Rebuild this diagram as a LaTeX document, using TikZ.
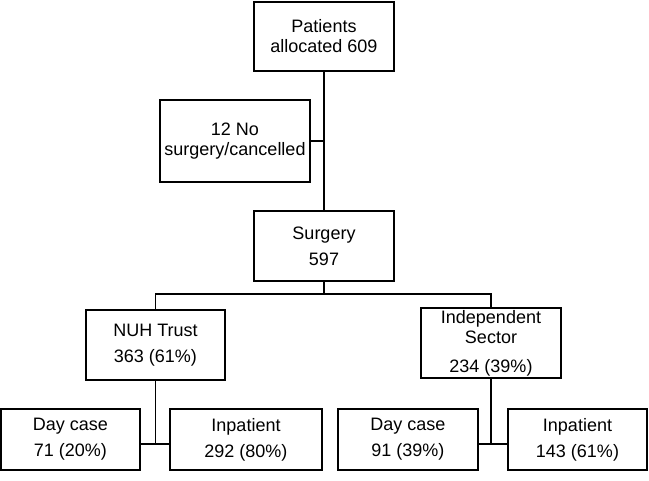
\documentclass[tikz,border=0pt]{standalone}
\usepackage{fontspec}
\setmainfont{Liberation Sans}
\tikzset{box/.style={draw,line width=1.8pt,align=center,inner sep=0pt,minimum height=70pt,font=\fontsize{18}{20}\selectfont},
	link/.style={line width=1.8pt}}
\begin{document}
\begin{tikzpicture}[x=1pt,y=-1pt]
 		\useasboundingbox (0,0) rectangle (649,481);
 		\node[box,minimum width=140pt,minimum height=69pt] (pat) at (324,36.5) {Patients\\allocated 609};
 		\node[box,minimum width=150pt,minimum height=82pt] (nosurg) at (235,141) {12 No\\surgery/cancelled};
 		\node[box,minimum width=140pt] (surg) at (324,246) {Surgery\\[6pt]597};
 		\node[box,minimum width=139pt] (nuh) at (155.5,345) {NUH Trust\\[6pt]363 (61\%)};
 		\node[box,minimum width=140pt] (ind) at (491,343) {Independent\\Sector\\[9pt]234 (39\%)};
 		\node[box,minimum width=139pt,minimum height=61pt] (dcnuh) at (70.5,439.5) {Day case\\[6pt]71 (20\%)};
 		\node[box,minimum width=152pt,minimum height=61pt] (ipnuh) at (246,439.5) {Inpatient\\[6pt]292 (80\%)};
 		\node[box,minimum width=140pt,minimum height=61pt] (dcind) at (408,439.5) {Day case\\[6pt]91 (39\%)};
 		\node[box,minimum width=139pt,minimum height=61pt] (ipind) at (577.5,439.5) {Inpatient\\[6pt]143 (61\%)};
 		\coordinate (split) at (324,294);
 		\coordinate (jnuh) at (155.5,444);
 		\coordinate (jind) at (491,444);
 		\draw[link] (pat.south) -- (surg.north);
 		\draw[link] (nosurg.east) -- (nosurg.east -| pat.south);
 		\draw[link] (surg.south) -- (split);
 		\draw[link] (nuh.north) |- (split) -| (ind.north);
 		\draw[link] (nuh.south) -- (jnuh);
 		\draw[link] (dcnuh.east |- jnuh) -- (ipnuh.west |- jnuh);
 		\draw[link] (ind.south) -- (jind);
 		\draw[link] (dcind.east |- jind) -- (ipind.west |- jind);
 	\end{tikzpicture}
\end{document}
